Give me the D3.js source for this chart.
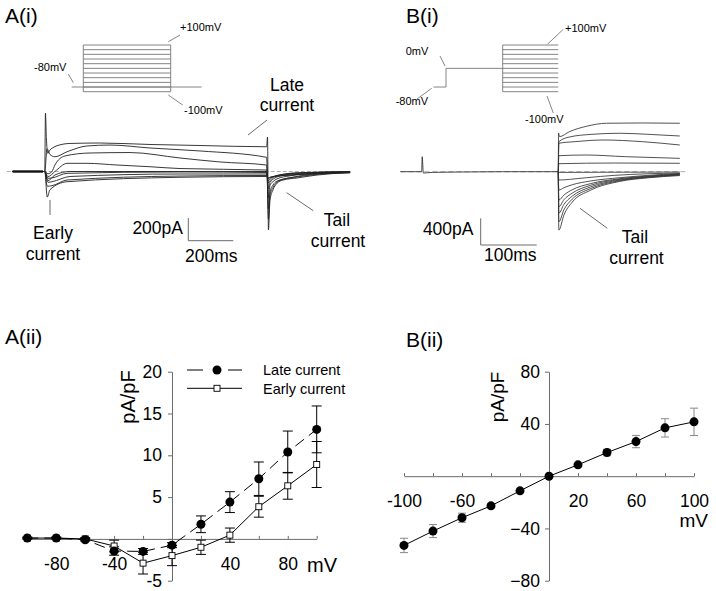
<!DOCTYPE html>
<html><head><meta charset="utf-8">
<script src="https://cdn.jsdelivr.net/npm/d3@7"></script>
<style>
body{margin:0;background:#fff}
svg{display:block}
text{font-family:"Liberation Sans",Arial,Helvetica,sans-serif;fill:#000}
</style>
</head><body>
<svg id="c" width="716" height="591"></svg>
<script>
// ---------------- DATA ----------------
const mV = [-100,-80,-60,-40,-20,0,20,40,60,80,100];
const lateMean  = [0.1,0.1,-0.1,-1.45,-1.5,-0.75,1.75,4.4,7.2,10.4,13.1];
const lateErr   = [0.1,0.1,0.15,0.5,0.35,0.3,1.0,1.25,2.0,2.5,2.8];
const earlyMean = [0.1,0.1,0.0,-0.85,-2.9,-2.0,-1.0,0.45,3.85,6.35,8.9];
const earlyErr  = [0.1,0.1,0.15,0.7,1.3,1.2,0.85,0.85,1.25,1.6,2.75];
const bMean = [-53,-42,-31.8,-22.7,-11.2,0,8.7,18.1,26.5,37,41.6];
const bErr  = [5.5,5,3.5,1.5,1,0.5,1,2.5,4.7,7,10.5];

const aXTickLabels = [-80,-40,40,80];
const aYTicks = [-5,0,5,10,15,20];
const bXTickLabels = [-100,-60,20,60,100];
const bYTicks = [-80,-40,40,80];

// test-pulse voltage levels of the protocols (mV)
const testLevels = [-100,-80,-60,-40,-20,0,20,40,60,80,100];
const protoATimes = [-133, 0, 1000, 1354];
const protoBTimes = [-22, 0, 100, 198];

// current traces, A(i): [time ms, current pA]
const tracesA = [
 [[-144,0],[-1,0],[2,515],[6,300],[12,160],[22,189],[40,215],[58,230],[111,247],[244,251],[467,238],[689,229],[985,218],[989,304],[993,-515],[1000,-251],[1013,-163],[1031,-104],[1058,-75],[1120,-57],[1209,-31],[1342,-10],[1356,-8]],
 [[-144,0],[-1,0],[9,200],[22,150],[44,130],[98,174],[187,225],[289,233],[467,207],[689,181],[985,125],[993,-420],[1000,-210],[1013,-140],[1031,-95],[1058,-69],[1120,-48],[1209,-25],[1356,-6]],
 [[-144,0],[-1,0],[13,-20],[31,0],[44,57],[89,137],[200,163],[378,167],[600,119],[778,84],[985,57],[993,-330],[1000,-180],[1013,-120],[1031,-85],[1089,-55],[1191,-22],[1356,-5]],
 [[-144,0],[-1,0],[13,-45],[44,0],[98,72],[187,72],[320,57],[467,42],[600,26],[985,13],[993,-230],[1000,-120],[1013,-90],[1031,-65],[1089,-38],[1191,-15],[1356,-3]],
 [[-144,0],[-1,0],[13,-80],[44,-31],[111,0],[985,0],[993,-150],[1000,-95],[1044,-40],[1133,-16],[1356,0]],
 [[-144,0],[-1,0],[13,-60],[31,-57],[98,-16],[600,-4],[985,-9],[993,-100],[1004,-70],[1044,-30],[1133,-10],[1356,-2]],
 [[-144,0],[-1,0],[13,-95],[31,-90],[111,-44],[600,-22],[985,-22],[993,-80],[1004,-55],[1044,-30],[1133,-14],[1356,-5]],
 [[-144,0],[-1,0],[10,-130],[31,-125],[98,-75],[600,-40],[985,-35],[993,-60],[1004,-50],[1089,-30],[1356,-10]],
 [[-144,0],[-1,0],[10,-225],[22,-160],[98,-90],[600,-51],[985,-44],[993,-55],[1004,-48],[1089,-32],[1356,-12]]
];
const baseA = [[-170,0],[1356,0]];
const preA = [[-144,0],[-9,0]];

// current traces, B(i): [time ms, current pA]
const preB = [[-282,0],[-244,0],[-243,225],[-241,-20],[-225,-10],[-180,-5],[-100,0],[0,0]];
const baseB = [[-282,0],[232,0]];
const tracesB = [
 [[0,0],[0.5,580],[2,525],[20,600],[50,680],[86,726],[150,730],[217,726]],
 [[0,0],[1,450],[20,520],[60,560],[110,576],[160,560],[217,535]],
 [[0,0],[1,426],[30,450],[80,475],[150,450],[217,400]],
 [[0,0],[1,240],[50,250],[120,225],[217,200]],
 [[0,0],[1,120],[100,130],[217,126]],
 [[0,0],[1,-10],[217,-5]],
 [[0,0],[1,-125],[20,-115],[50,-90],[100,-55],[217,-20]],
 [[0,0],[1,-275],[10,-240],[25,-195],[57,-140],[110,-90],[160,-55],[217,-28]],
 [[0,0],[1,-425],[10,-350],[25,-270],[57,-180],[110,-105],[160,-65],[217,-35]],
 [[0,0],[1,-525],[10,-420],[25,-320],[57,-205],[110,-115],[160,-72],[217,-40]],
 [[0,0],[1,-620],[10,-490],[25,-365],[57,-230],[110,-125],[160,-78],[217,-45]],
 [[0,0],[1,-750],[10,-570],[25,-410],[57,-255],[110,-135],[160,-85],[217,-50]],
 [[0,0],[1,-875],[10,-650],[25,-455],[57,-280],[110,-145],[160,-92],[217,-58]]
];

// ---------------- DRAW ----------------
const svg = d3.select("#c");
const GRAY = "#6b6b6b";

function txt(x,y,s,size,anchor){
  return svg.append("text").attr("x",x).attr("y",y).attr("font-size",size)
     .attr("text-anchor",anchor||"start").text(s);
}
function seg(x1,y1,x2,y2,col,w){
  svg.append("line").attr("x1",x1).attr("y1",y1).attr("x2",x2).attr("y2",y2)
    .attr("stroke",col||GRAY).attr("stroke-width",w||1);
}

// titles
txt(5,23,"A(i)",21);
txt(406,23,"B(i)",21);
txt(5,344,"A(ii)",21);
txt(406,347,"B(ii)",21);

// ---------- Protocol A ----------
const pAx = d3.scaleLinear().domain([0,1000]).range([83.3,170.7]);
const pAy = d3.scaleLinear().domain([-100,100]).range([91.7,45]);
const gpA = svg.append("g").attr("stroke","#777").attr("stroke-width",0.9);
gpA.selectAll("line.lv").data(testLevels).join("line")
  .attr("x1",pAx(protoATimes[1])).attr("x2",pAx(protoATimes[2]))
  .attr("y1",d=>pAy(d)).attr("y2",d=>pAy(d));
[protoATimes[1],protoATimes[2]].forEach(t=>{
  gpA.append("line").attr("x1",pAx(t)).attr("x2",pAx(t)).attr("y1",pAy(-100)).attr("y2",pAy(100));
});
gpA.append("line").attr("x1",pAx(protoATimes[0])).attr("x2",pAx(protoATimes[3]))
  .attr("y1",pAy(-80)).attr("y2",pAy(-80));
txt(180,31.3,"+100mV",11); seg(168.3,41.7,180,35,"#777",0.9);
txt(34,70.7,"-80mV",11);   seg(68.3,74,73.3,82.7,"#777",0.9);
txt(184,114,"-100mV",11);  seg(168.3,95,182.7,105,"#777",0.9);

// ---------- Protocol B ----------
const pBx = d3.scaleLinear().domain([0,100]).range([446,502.7]);
const pBy = d3.scaleLinear().domain([-100,100]).range([91.7,45]);
const gpB = svg.append("g").attr("stroke","#777").attr("stroke-width",0.9).attr("fill","none");
gpB.append("path").attr("d",
  d3.line()([[pBx(protoBTimes[0]),pBy(-80)],[pBx(protoBTimes[1]),pBy(-80)],[pBx(protoBTimes[1]),pBy(0)],[pBx(protoBTimes[2]),pBy(0)]]));
gpB.selectAll("line.lv").data(testLevels).join("line")
  .attr("x1",pBx(protoBTimes[2])).attr("x2",pBx(protoBTimes[3]))
  .attr("y1",d=>pBy(d)).attr("y2",d=>pBy(d));
gpB.append("line").attr("x1",pBx(protoBTimes[2])).attr("x2",pBx(protoBTimes[2])).attr("y1",pBy(-100)).attr("y2",pBy(100));
txt(565,31.5,"+100mV",11); seg(547.7,44,563.3,29.3,"#777",0.9);
txt(405.7,55,"0mV",11);    seg(440,56,445,66,"#777",0.9);
txt(395.7,104.5,"-80mV",11); seg(417,99,431.7,88.3,"#777",0.9);
txt(525,122.5,"-100mV",11);  seg(547,96,553.3,113,"#777",0.9);

// ---------- Traces A ----------
const xTA = d3.scaleLinear().domain([0,200]).range([45,90]);
const yTA = d3.scaleLinear().domain([0,200]).range([171.5,148.8]);
const lineA = d3.line().x(d=>xTA(d[0])).y(d=>yTA(d[1])).curve(d3.curveMonotoneX);
svg.append("path").attr("d",lineA(baseA)).attr("fill","none").attr("stroke","#999").attr("stroke-width",0.8).attr("stroke-dasharray","4,2");
svg.append("g").selectAll("path").data(tracesA).join("path")
  .attr("d",lineA).attr("fill","none").attr("stroke","#222").attr("stroke-width",0.9);
svg.append("path").attr("d",lineA(preA)).attr("fill","none").attr("stroke","#111").attr("stroke-width",2.4);

const sbAx = 188.3, sbAy = 240.7;
seg(sbAx, sbAy, sbAx, sbAy-(yTA(0)-yTA(200)), GRAY, 1);
seg(sbAx, sbAy, sbAx+(xTA(200)-xTA(0)), sbAy, GRAY, 1);
txt(183,233.5,"200pA",17.5,"end");
txt(185,262,"200ms",17.5);

txt(287,90.5,"Late",17.5,"middle");
txt(287,111,"current",17.5,"middle");
seg(248,135,267,120,GRAY,1);
txt(53,239,"Early",17.5,"middle");
txt(53,259.5,"current",17.5,"middle");
seg(50,200,50,215,GRAY,1);
txt(337,226,"Tail",17.5,"middle");
txt(338,246.5,"current",17.5,"middle");
seg(286.7,192.7,313.3,210.7,GRAY,1);

// ---------- Traces B ----------
const xTB = d3.scaleLinear().domain([0,100]).range([558.3,614.3]);
const yTB = d3.scaleLinear().domain([0,400]).range([171.7,145]);
const lineB = d3.line().x(d=>xTB(d[0])).y(d=>yTB(d[1])).curve(d3.curveMonotoneX);
svg.append("path").attr("d",lineB(baseB)).attr("fill","none").attr("stroke","#999").attr("stroke-width",0.8).attr("stroke-dasharray","5,3");
svg.append("path").attr("d",lineB(preB)).attr("fill","none").attr("stroke","#333").attr("stroke-width",0.9);
svg.append("g").selectAll("path").data(tracesB).join("path")
  .attr("d",lineB).attr("fill","none").attr("stroke","#333").attr("stroke-width",0.85);

const sbBx = 480.7, sbBy = 245;
seg(sbBx, sbBy, sbBx, sbBy-(yTB(0)-yTB(400)), GRAY, 1);
seg(sbBx, sbBy, sbBx+(xTB(100)-xTB(0)), sbBy, GRAY, 1);
txt(473.5,235.3,"400pA",17.5,"end");
txt(484,261,"100ms",17.5);
txt(635,243.2,"Tail",17.5,"middle");
txt(636.5,263.5,"current",17.5,"middle");
seg(580,208.3,607.3,228.3,GRAY,1);

// ---------- A(ii) ----------
const xA2 = d3.scaleLinear().domain([-100,100]).range([27.3,316.7]);
const yA2 = d3.scaleLinear().domain([-5,20]).range([580.7,371.7]);

function styleAxis(g,size){
  g.select(".domain").attr("stroke",GRAY).attr("stroke-width",1);
  g.selectAll(".tick line").attr("stroke",GRAY).attr("stroke-width",1);
  g.selectAll(".tick text").attr("font-size",size).attr("fill","#000")
    .attr("font-family","'Liberation Sans',Arial,sans-serif");
}
const gxA = svg.append("g").attr("transform",`translate(0,${yA2(0)})`)
  .call(d3.axisBottom(xA2).tickValues(mV).tickSizeInner(-3).tickSizeOuter(0).tickPadding(19)
    .tickFormat(d=>aXTickLabels.includes(d)?d:""));
styleAxis(gxA,17.5);
const gyA = svg.append("g").attr("transform",`translate(${xA2(0)},0)`)
  .call(d3.axisLeft(yA2).tickValues(aYTicks).tickSizeInner(4).tickSizeOuter(0).tickPadding(6)
    .tickFormat(d=>d===0?"":d));
styleAxis(gyA,17.5);
txt(307,572,"mV",20);
svg.append("text").attr("transform","translate(135,397) rotate(-90)").attr("text-anchor","middle")
  .attr("font-size",20).text("pA/pF");

const errA = svg.append("g").attr("stroke","#000").attr("stroke-width",1);
function errBars(g,x,y,means,errs,cap){
  mV.forEach((v,i)=>{
    const xx=x(v), y1=y(means[i]-errs[i]), y2=y(means[i]+errs[i]);
    g.append("line").attr("x1",xx).attr("x2",xx).attr("y1",y1).attr("y2",y2);
    g.append("line").attr("x1",xx-cap).attr("x2",xx+cap).attr("y1",y1).attr("y2",y1);
    g.append("line").attr("x1",xx-cap).attr("x2",xx+cap).attr("y1",y2).attr("y2",y2);
  });
}
errBars(errA,xA2,yA2,lateMean,lateErr,5);
errBars(errA,xA2,yA2,earlyMean,earlyErr,5);

const lineA2 = d3.line().x(d=>xA2(d[0])).y(d=>yA2(d[1]));
svg.append("path").attr("d",lineA2(mV.map((v,i)=>[v,earlyMean[i]])))
  .attr("fill","none").attr("stroke","#000").attr("stroke-width",1);
svg.append("path").attr("d",lineA2(mV.map((v,i)=>[v,lateMean[i]])))
  .attr("fill","none").attr("stroke","#000").attr("stroke-width",1).attr("stroke-dasharray","11,6");
svg.append("g").selectAll("rect").data(mV).join("rect")
  .attr("x",(d)=>xA2(d)-3).attr("y",(d,i)=>yA2(earlyMean[i])-3).attr("width",6).attr("height",6)
  .attr("fill","#fff").attr("stroke","#000").attr("stroke-width",0.9);
svg.append("g").selectAll("circle").data(mV).join("circle")
  .attr("cx",d=>xA2(d)).attr("cy",(d,i)=>yA2(lateMean[i])).attr("r",4.5).attr("fill","#000");

// legend
seg(187,370,203,370,"#000",1); seg(228,370,242,370,"#000",1);
svg.append("circle").attr("cx",217).attr("cy",370).attr("r",4.5).attr("fill","#000");
txt(263,375,"Late current",14.5);
seg(187,388.3,242,388.3,"#000",1);
svg.append("rect").attr("x",214).attr("y",385.3).attr("width",6).attr("height",6).attr("fill","#fff").attr("stroke","#000").attr("stroke-width",0.9);
txt(263,393.5,"Early current",14.5);

// ---------- B(ii) ----------
const xB2 = d3.scaleLinear().domain([-100,100]).range([404,694]);
const yB2 = d3.scaleLinear().domain([-80,80]).range([580.7,371.7]);
const gxB = svg.append("g").attr("transform",`translate(0,${yB2(0)})`)
  .call(d3.axisBottom(xB2).tickValues(mV).tickSizeInner(-3).tickSizeOuter(0).tickPadding(18)
    .tickFormat(d=>bXTickLabels.includes(d)?d:""));
styleAxis(gxB,17.5);
const gyB = svg.append("g").attr("transform",`translate(${xB2(0)},0)`)
  .call(d3.axisLeft(yB2).tickValues(bYTicks).tickSizeInner(4).tickSizeOuter(0).tickPadding(5));
styleAxis(gyB,17.5);
txt(708,527,"mV",19,"end");
svg.append("text").attr("transform","translate(504,397) rotate(-90)").attr("text-anchor","middle")
  .attr("font-size",19).text("pA/pF");

const errB = svg.append("g").attr("stroke","#888").attr("stroke-width",1);
errBars(errB,xB2,yB2,bMean,bErr,4);
svg.append("path").attr("d",d3.line().x(d=>xB2(d[0])).y(d=>yB2(d[1]))(mV.map((v,i)=>[v,bMean[i]])))
  .attr("fill","none").attr("stroke","#000").attr("stroke-width",1);
svg.append("g").selectAll("circle").data(mV).join("circle")
  .attr("cx",d=>xB2(d)).attr("cy",(d,i)=>yB2(bMean[i])).attr("r",4.5).attr("fill","#000");
</script>
</body></html>
